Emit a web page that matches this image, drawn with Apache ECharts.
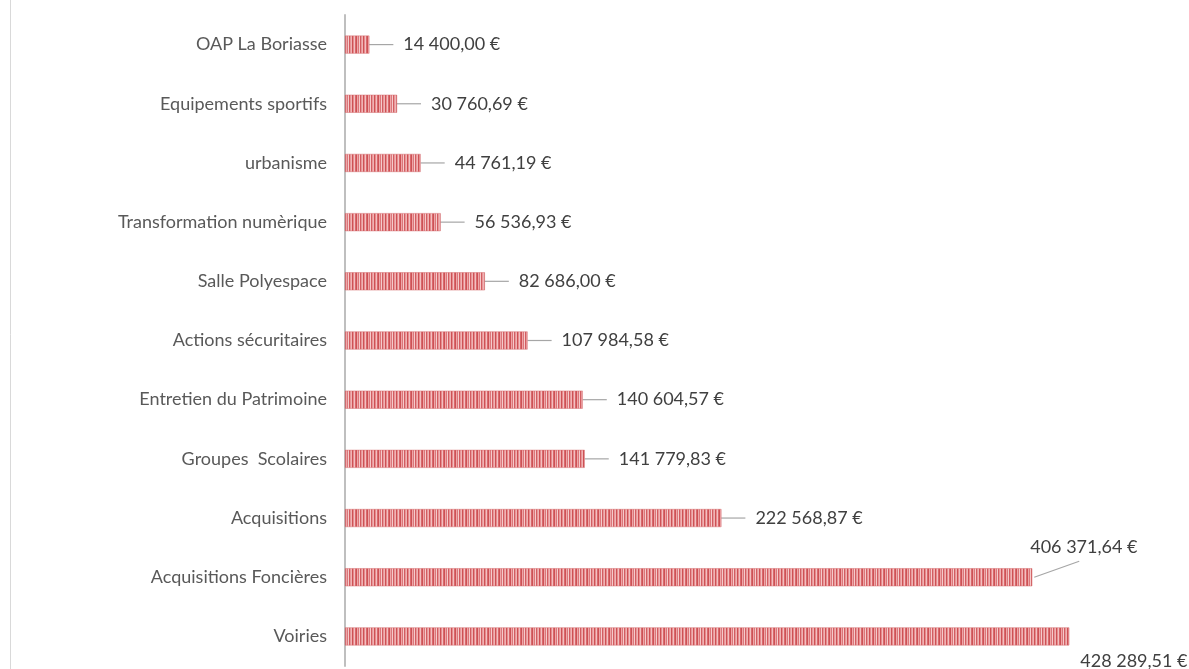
<!DOCTYPE html>
<html>
<head>
<meta charset="utf-8">
<script src="https://cdn.jsdelivr.net/npm/echarts@6/dist/echarts.min.js"></script>
<style>
html,body{margin:0;padding:0;background:#fff;}
#chart{width:1189px;height:669px;}
</style>
</head>
<body>
<div id="chart"></div>
<script>
const categories = [
  "OAP La Boriasse",
  "Equipements sportifs",
  "urbanisme",
  "Transformation numèrique",
  "Salle Polyespace",
  "Actions sécuritaires",
  "Entretien du Patrimoine",
  "Groupes  Scolaires",
  "Acquisitions",
  "Acquisitions Foncières",
  "Voiries"
];
const values = [14400.00, 30760.69, 44761.19, 56536.93, 82686.00, 107984.58, 140604.57, 141779.83, 222568.87, 406371.64, 428289.51];

function fmt(v) {
  const parts = v.toFixed(2).split('.');
  const intPart = parts[0].replace(/\B(?=(\d{3})+(?!\d))/g, ' ');
  return intPart + ',' + parts[1] + ' €';
}

// striped bar pattern
const pc = document.createElement('canvas');
const stripeColors = ['#cd5154','#e68b8e','#f3c0c1','#d76a6e','#cd5154','#eea6a8','#dc777b','#f5cbcb','#d25d61','#e8979a','#f0b3b4'];
pc.width = stripeColors.length; pc.height = 4;
const pctx = pc.getContext('2d');
stripeColors.forEach((c, i) => { pctx.fillStyle = c; pctx.fillRect(i, 0, 1, 4); });

const chart = echarts.init(document.getElementById('chart'), null, {renderer: 'canvas'});
const FONT = 'Lato, "Open Sans", sans-serif';
const n = values.length;
const LINE_COLOR = '#a6a6a6';

const data = values.map((v, i) => {
  const item = { value: v };
  if (i >= n - 2) item.labelLine = { show: false };
  return item;
});

chart.setOption({
  animation: false,
  backgroundColor: '#ffffff',
  grid: { left: 345, top: 15, height: 651, right: 83, containLabel: false },
  xAxis: {
    type: 'value', min: 0, max: 450000,
    show: false
  },
  yAxis: {
    type: 'category', data: categories, inverse: true,
    axisLine: { show: true, lineStyle: { color: '#bfbfbf', width: 2 } },
    axisTick: { show: false },
    axisLabel: { margin: 18, color: '#595959', fontSize: 18, fontFamily: FONT }
  },
  series: [{
    type: 'bar',
    data: data,
    barWidth: 18,
    itemStyle: { color: { image: pc, repeat: 'repeat' }, borderColor: '#d46e71', borderWidth: 0.5 },
    label: {
      show: true, position: 'right', distance: 5,
      color: '#404040', fontSize: 18, fontFamily: FONT,
      backgroundColor: 'rgba(255,255,255,0)',
      padding: [0, 0, 0, 10],
      formatter: p => fmt(p.value)
    },
    labelLine: { show: true, lineStyle: { color: LINE_COLOR, width: 1.2 } },
    labelLayout: function (p) {
      if (p.dataIndex === n - 2) return { dx: -17, dy: -30 };
      if (p.dataIndex === n - 1) return { dx: -4, dy: 25 };
      return { dx: 19 };
    }
  }]
});

// leader line for the "Acquisitions Foncières" label (anchored to the bar end via the axis scales)
const end = chart.convertToPixel({ seriesIndex: 0 }, [values[n - 2], n - 2]);
chart.setOption({
  graphic: [
    { type: 'line', shape: { x1: 10.5, y1: 0, x2: 10.5, y2: 669 }, style: { stroke: '#d9d9d9', lineWidth: 1 } },
    { type: 'line', shape: { x1: end[0] + 2, y1: end[1], x2: end[0] + 47, y2: end[1] - 16 },
      style: { stroke: LINE_COLOR, lineWidth: 1.2 }, z: 10 }
  ]
});
</script>
</body>
</html>
